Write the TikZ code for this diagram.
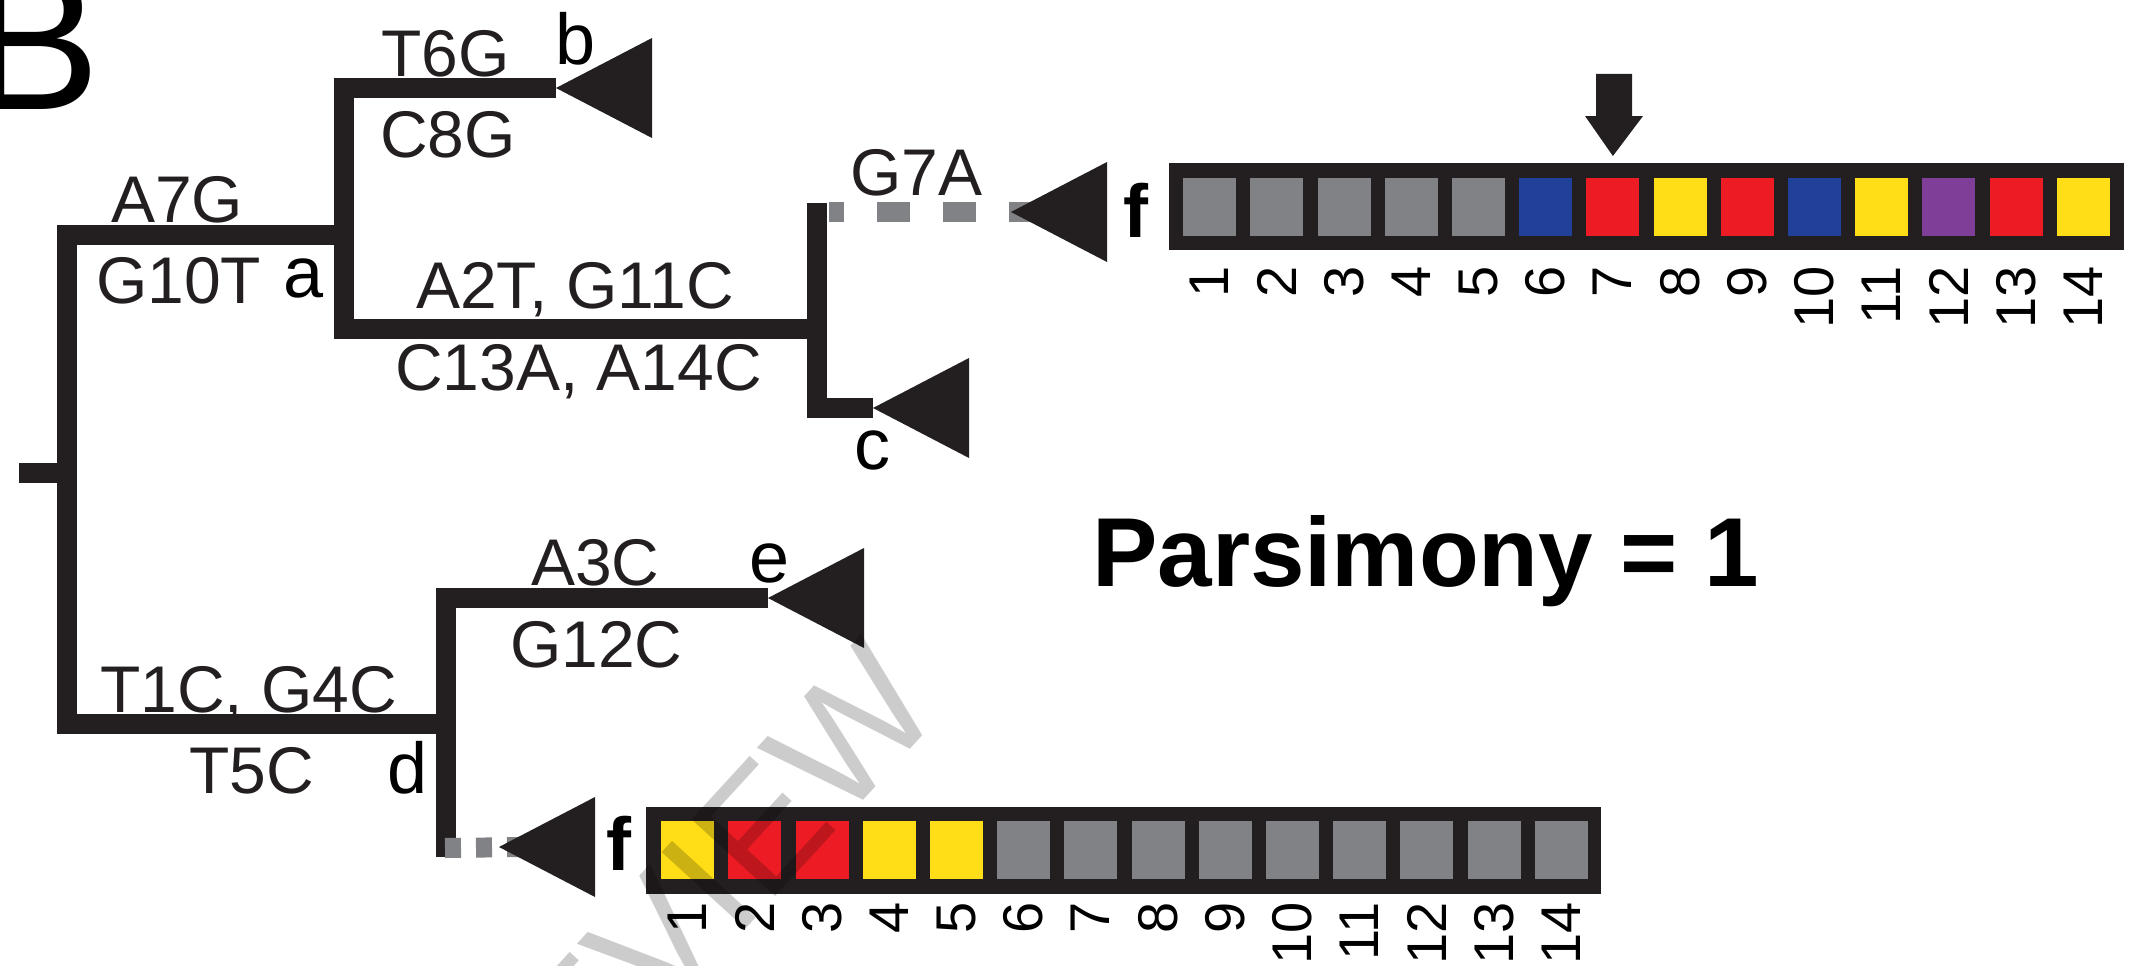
\documentclass[tikz,border=0pt]{standalone}
\usepackage{fontspec}
\usetikzlibrary{calc}
\setmainfont{Liberation Sans}
\definecolor{ink}{HTML}{231F20}
\definecolor{cgray}{HTML}{808285}
\definecolor{cblue}{HTML}{21409A}
\definecolor{cred}{HTML}{ED1C24}
\definecolor{cyellow}{HTML}{FFDE17}
\definecolor{cpurple}{HTML}{7F3F98}
\begin{document}
\begin{tikzpicture}[x=1pt,y=-1pt,
  branch/.style={draw=ink, line width=20pt, line join=miter, line cap=butt},
  dashA/.style={draw=cgray, line width=20pt, dash pattern=on 33pt off 33pt, dash phase=18pt},
  dashB/.style={draw=cgray, line width=20pt, dash pattern=on 16pt off 15pt},
  mut/.style={anchor=base west, inner sep=0pt, font=\fontsize{66}{70}\selectfont, text=ink},
  leaflbl/.style={anchor=base west, inner sep=0pt, font=\fontsize{72}{76}\selectfont},
  flbl/.style={anchor=base west, inner sep=0pt, font=\bfseries\fontsize{75}{78}\selectfont},
  num/.style={rotate=90, anchor=east, inner sep=0pt, font=\fontsize{56}{56}\selectfont},
  seqbox/.style={fill=ink, anchor=north west, inner sep=0pt, minimum width=955pt, minimum height=87pt},
  cell/.style={anchor=north west, inner sep=0pt, minimum width=53pt, minimum height=58pt},
]
\useasboundingbox (0,0) rectangle (2155,966);

% panel letter
\node[anchor=base west, inner sep=0pt, font=\fontsize{195}{195}\selectfont] (panelB) at (-30,110) {B};

% tree coordinates
\coordinate (stub) at (19,473);
\coordinate (root) at (67,473);
\coordinate (na) at (344,235);
\coordinate (nd) at (446,724);
\coordinate (nc) at (817,329);
\coordinate (tb) at (556,88);
\coordinate (tc) at (873,408);
\coordinate (te) at (768,598);
\coordinate (tf1) at (1011,212);
\coordinate (tf2) at (499,847);

% branches
\draw[branch] (stub) -- (root);
\draw[branch] (na) -| (nd -| root) -- (nd);
\draw[branch] (tb) -- (tb -| na) -- (nc -| na) -- (nc);
\draw[branch] (817,203) -- (tc -| nc) -- (tc);
\draw[branch] (te) -- (te -| nd) -- (446,857);

% dashed branches (run under the leaf triangles)
\draw[dashA] (829,212) -- ($(tf1)+(30,0)$);
\draw[dashB] (445,848) -- ($(tf2)+(25,0)$);

% leaf triangles
\foreach \t in {tb,tc,te,tf1,tf2}
  \fill[ink] (\t) -- ++(96,-50) -- ++(0,100) -- cycle;

% mutation labels
\node[mut] (m1) at (381,77) {T6G};
\node[mut] (m2) at (380,157) {C8G};
\node[mut] (m3) at (111,222) {A7G};
\node[mut] (m4) at (96,303) {G10T};
\node[mut] (m5) at (416,308) {A2T, G11C};
\node[mut] (m6) at (395,390) {C13A, A14C};
\node[mut] (m7) at (850,195) {G7A};
\node[mut] (m8) at (531,585) {A3C};
\node[mut] (m9) at (510,667) {G12C};
\node[mut] (m10) at (100,712) {T1C, G4C};
\node[mut] (m11) at (189,793) {T5C};

% node letters
\node[leaflbl] (la) at (283,297) {a};
\node[leaflbl] (lb) at (555,65) {b};
\node[leaflbl] (lc) at (854,469) {c};
\node[leaflbl] (ld) at (387,793) {d};
\node[leaflbl] (le) at (749,582) {e};
\node[flbl] (lf1) at (1123,237) {f};
\node[flbl] (lf2) at (606,870) {f};

% top sequence
\node[seqbox] (boxtop) at (1169,163) {};
\foreach \c [count=\i] in {cgray,cgray,cgray,cgray,cgray,cblue,cred,cyellow,cred,cblue,cyellow,cpurple,cred,cyellow}{
  \node[cell, fill=\c] (t\i) at ({1183+(\i-1)*67.2},178) {};
  \node[num] (tn\i) at ({1183+(\i-1)*67.2+26.5},266) {\i};
}
% bottom sequence
\node[seqbox] (boxbot) at (646,807) {};
\foreach \c [count=\i] in {cyellow,cred,cred,cyellow,cyellow,cgray,cgray,cgray,cgray,cgray,cgray,cgray,cgray,cgray}{
  \node[cell, fill=\c] (b\i) at ({661+(\i-1)*67.2},821) {};
  \node[num] (bn\i) at ({661+(\i-1)*67.2+26.5},902) {\i};
}

% arrow pointing at site 7
\fill[ink] (1596,74) -- (1632,74) -- (1632,116) -- (1643,116) -- (t7.north |- 0,156) -- (1585,116) -- (1596,116) -- cycle;

% parsimony
\node[anchor=base west, inner sep=0pt, font=\bfseries\fontsize{98}{100}\selectfont] (pars) at (1092,586) {Parsimony = 1};

% watermark
\node[rotate=47.5, inner sep=0pt, opacity=0.2, font=\fontsize{165}{165}\selectfont] (wm) at (684,912) {REVIEW};
\end{tikzpicture}
\end{document}
